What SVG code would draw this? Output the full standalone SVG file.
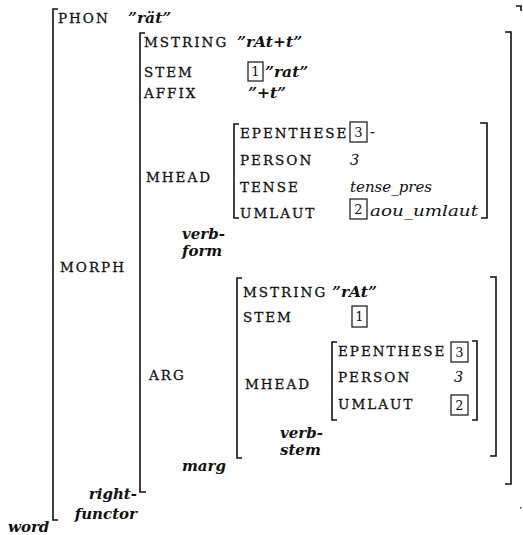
<svg xmlns="http://www.w3.org/2000/svg" width="523" height="535" viewBox="0 0 523 535">
<style>
.f{font-family:"DejaVu Serif","Liberation Serif",serif;font-size:13.5px;letter-spacing:2px;fill:#111;stroke:#111;stroke-width:0.3}
.v{font-family:"DejaVu Serif","Liberation Serif",serif;font-size:15.5px;font-style:italic;font-weight:bold;fill:#111}
.i{font-family:"DejaVu Serif","Liberation Serif",serif;font-size:14.5px;font-style:italic;fill:#111}
.t{font-family:"DejaVu Serif","Liberation Serif",serif;font-size:15px;font-style:italic;font-weight:bold;fill:#111}
.n{font-family:"DejaVu Serif","Liberation Serif",serif;font-size:13px;text-anchor:middle;fill:#111}
.b{fill:none;stroke:#111;stroke-width:1.6}
.x{fill:none;stroke:#111;stroke-width:1.2}
</style>
<rect width="523" height="535" fill="#fff"/>
<g id="word">
<path class="b" d="M58,9 H53 V520 H58"/>
<path class="b" d="M516,6 H521 V11"/>
<rect x="520" y="507" width="1.5" height="1.5" fill="#444"/>
<text class="f" x="58" y="23">PHON</text>
<text class="v" x="128" y="23">”rät”</text>
<text class="f" x="60" y="272">MORPH</text>
<text class="t" x="137" y="499" text-anchor="end">right-</text>
<text class="t" x="137" y="519" text-anchor="end">functor</text>
<text class="t" x="8" y="532">word</text>
</g>
<g id="right-functor">
<path class="b" d="M145,33 H140 V492 H146"/>
<path class="b" d="M505,32 H511 V484 H505"/>
<text class="f" x="144" y="47">MSTRING</text>
<text class="v" x="237" y="47">”rAt+t”</text>
<text class="f" x="144" y="77">STEM</text>
<text class="v" x="265" y="77">”rat”</text>
<text class="f" x="144" y="98">AFFIX</text>
<text class="v" x="248" y="98">”+t”</text>
<text class="f" x="146" y="182">MHEAD</text>
<text class="f" x="149" y="380">ARG</text>
</g>
<g id="tag1a"><rect class="x" x="248" y="62" width="15" height="19"/><text class="n" x="255.5" y="76">1</text></g>
<g id="verb-form">
<path class="b" d="M239,124 H234 V218 H239"/>
<path class="b" d="M480,123 H487 V218 H481"/>
<text class="f" x="240" y="138">EPENTHESE</text>
<text class="i" x="370" y="137">-</text>
<text class="f" x="240" y="165">PERSON</text>
<text class="i" x="350" y="165">3</text>
<text class="f" x="240" y="192">TENSE</text>
<text class="i" x="350" y="192" textLength="82" lengthAdjust="spacingAndGlyphs">tense_pres</text>
<text class="f" x="240" y="218">UMLAUT</text>
<text class="i" x="370" y="216" textLength="108" lengthAdjust="spacingAndGlyphs">aou_umlaut</text>
<text class="t" x="182" y="239">verb-</text>
<text class="t" x="182" y="256">form</text>
</g>
<g id="tag3a"><rect class="x" x="350" y="122" width="17" height="20"/><text class="n" x="358.5" y="137">3</text></g>
<g id="tag2a"><rect class="x" x="350" y="199" width="17" height="20"/><text class="n" x="358.5" y="214">2</text></g>
<g id="marg">
<path class="b" d="M242,278 H237 V458 H242"/>
<path class="b" d="M490,277 H496 V456 H490"/>
<text class="f" x="243" y="297">MSTRING</text>
<text class="v" x="332" y="297">”rAt”</text>
<text class="f" x="243" y="322">STEM</text>
<text class="f" x="245" y="389">MHEAD</text>
<text class="t" x="182" y="471">marg</text>
</g>
<g id="tag1b"><rect class="x" x="352" y="306" width="15" height="21"/><text class="n" x="359.5" y="321">1</text></g>
<g id="verb-stem">
<path class="b" d="M337,342 H332 V420 H337"/>
<path class="b" d="M472,341 H477 V420 H472"/>
<text class="f" x="338" y="356">EPENTHESE</text>
<text class="f" x="338" y="382">PERSON</text>
<text class="i" x="454" y="382">3</text>
<text class="f" x="338" y="409">UMLAUT</text>
<text class="t" x="280" y="438">verb-</text>
<text class="t" x="280" y="455">stem</text>
</g>
<g id="tag3b"><rect class="x" x="451" y="342" width="17" height="20"/><text class="n" x="459.5" y="357">3</text></g>
<g id="tag2b"><rect class="x" x="451" y="395" width="17" height="20"/><text class="n" x="459.5" y="410">2</text></g>
</svg>
